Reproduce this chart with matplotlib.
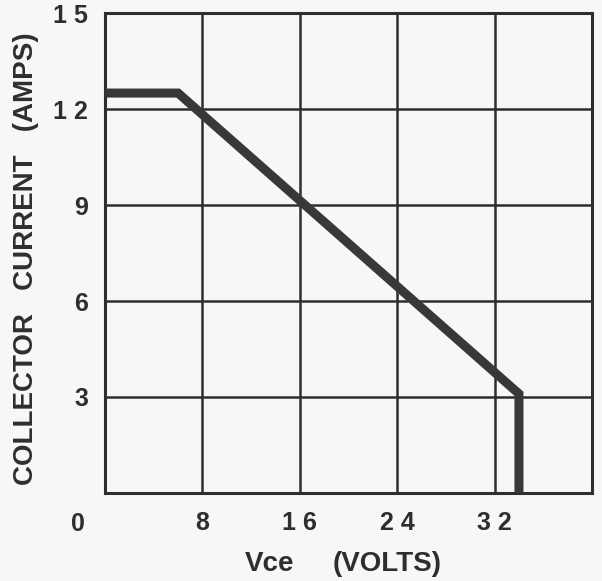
import matplotlib
matplotlib.use("Agg")
import matplotlib.pyplot as plt

# safe operating area curve (Vce in volts, Ic in amps)
vce = [0, 6, 34, 34]
ic = [12.5, 12.5, 3.1, 0]

x_ticks = [8, 16, 24, 32]
x_labels = ["8", "1 6", "2 4", "3 2"]
y_ticks = [3, 6, 9, 12, 15]
y_labels = ["3", "6", "9", "1 2", "1 5"]

ink = "#2e2e2e"
paper = "#f7f7f5"
fs = 18

plt.rcParams["font.family"] = ["Liberation Sans", "DejaVu Sans"]
plt.rcParams["font.weight"] = "bold"

fig = plt.figure(figsize=(6.02, 5.81), dpi=100, facecolor=paper)
ax = fig.add_axes([0.1744, 0.1515, 0.809, 0.826], facecolor=paper)

ax.set_xlim(0, 40)
ax.set_ylim(0, 15)

# grid drawn as plain lines so the frame and grid share one weight
for gx in [8, 16, 24, 32]:
    ax.axvline(gx, color=ink, lw=1.8, zorder=1)
for gy in [3, 6, 9, 12]:
    ax.axhline(gy, color=ink, lw=1.8, zorder=1)

ax.plot(vce, ic, color="#383838", lw=6.5, solid_joinstyle="miter", zorder=3)

for s in ax.spines.values():
    s.set_color(ink)
    s.set_linewidth(2.2)

ax.set_xticks(x_ticks)
ax.set_xticklabels(x_labels)
ax.set_yticks(y_ticks)
ax.set_yticklabels(y_labels)
ax.tick_params(length=0, labelsize=fs, colors=ink)
ax.tick_params(axis="x", pad=13)
ax.tick_params(axis="y", pad=12)

# origin label sits left of the frame
ax.text(-2.2, -0.6, "0", ha="center", va="top", fontsize=fs,
        fontweight="bold", color=ink)

fig.text(270 / 602, 1 - 564 / 581, "Vce", ha="center", va="center",
         fontsize=20, fontweight="bold", color=ink)
fig.text(387 / 602, 1 - 564 / 581, "(VOLTS)", ha="center", va="center",
         fontsize=20, fontweight="bold", color=ink)
fig.text(26 / 602, 1 - 259 / 581, "COLLECTOR   CURRENT   (AMPS)", ha="center",
         va="center", rotation=90, fontsize=20, fontweight="bold", color=ink)

fig.savefig("out.png", dpi=100, facecolor=paper)
